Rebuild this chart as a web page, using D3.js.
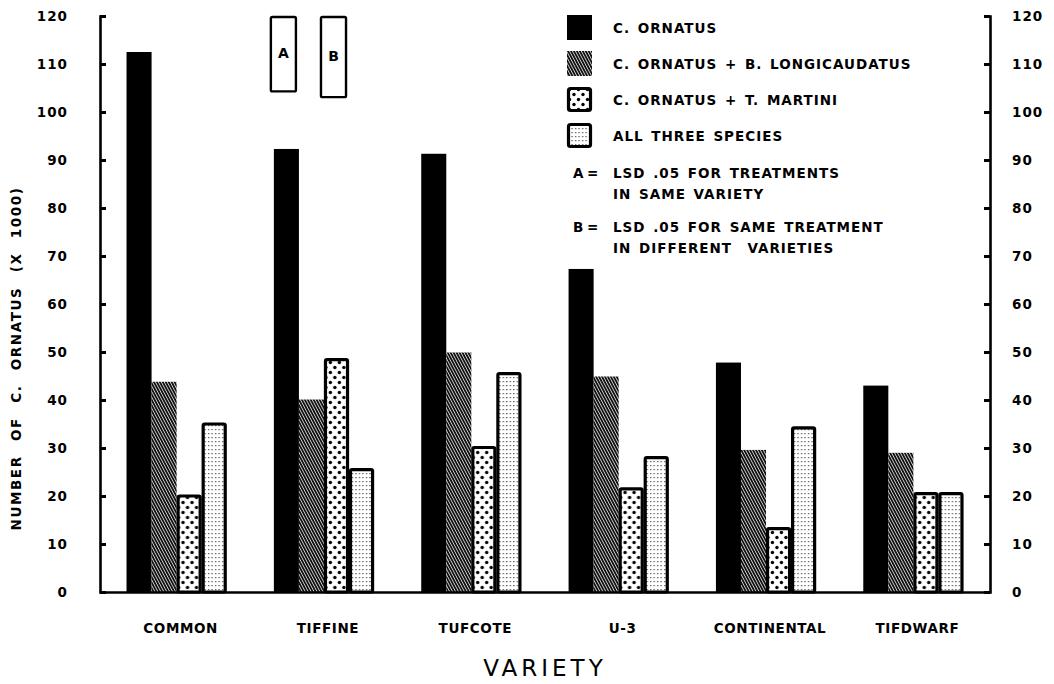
<!DOCTYPE html>
<html>
<head>
<meta charset="utf-8">
<script src="https://cdn.jsdelivr.net/npm/d3@7"></script>
<style>
  body { margin: 0; background: #fff; }
  text { font-family: "DejaVu Sans", sans-serif; fill: #000; }
</style>
</head>
<body>
<div id="chart"></div>
<script>
const varieties = ["COMMON", "TIFFINE", "TUFCOTE", "U-3", "CONTINENTAL", "TIFDWARF"];
const treatments = ["C. ORNATUS", "C. ORNATUS + B. LONGICAUDATUS", "C. ORNATUS + T. MARTINI", "ALL THREE SPECIES"];
const cOrnatus = [112.5, 92.3, 91.3, 67.3, 47.8, 43.0];
const withLongicaudatus = [43.8, 40.1, 49.9, 44.9, 29.6, 29.0];
const withMartini = [20.0, 48.4, 30.1, 21.5, 13.2, 20.5];
const allThree = [35.0, 25.5, 45.5, 28.0, 34.2, 20.5];
const yTicks = [0, 10, 20, 30, 40, 50, 60, 70, 80, 90, 100, 110, 120];
const lsdLabels = ["A", "B"];
const lsdValues = [15.5, 16.7];
const lsdTreatment = [0, 2];
const noteLines = [
  ["A", "LSD .05 FOR TREATMENTS"],
  ["", "IN SAME VARIETY"],
  ["B", "LSD .05 FOR SAME TREATMENT"],
  ["", "IN DIFFERENT  VARIETIES"]
];

const series = [cOrnatus, withLongicaudatus, withMartini, allThree];
const chartWidth = 1054, chartHeight = 684;
const plotLeft = 100, plotRight = 990, plotBottom = 592, plotTop = 16;

const svg = d3.select("#chart").append("svg")
  .attr("width", chartWidth)
  .attr("height", chartHeight);

// patterns
const defs = svg.append("defs");
const hatch = defs.append("pattern")
  .attr("id", "hatch")
  .attr("patternUnits", "userSpaceOnUse")
  .attr("width", 2.6).attr("height", 6)
  .attr("patternTransform", "rotate(-28)");
hatch.append("rect").attr("width", 2.6).attr("height", 6).attr("fill", "#fff");
hatch.append("rect").attr("width", 1.9).attr("height", 6).attr("fill", "#111");

const dots = defs.append("pattern")
  .attr("id", "dots")
  .attr("patternUnits", "userSpaceOnUse")
  .attr("width", 9).attr("height", 10);
dots.append("rect").attr("width", 9).attr("height", 10).attr("fill", "#fff");
dots.append("circle").attr("cx", 2.5).attr("cy", 2.5).attr("r", 1.7).attr("fill", "#000");
dots.append("circle").attr("cx", 7).attr("cy", 7.5).attr("r", 1.7).attr("fill", "#000");

const fine = defs.append("pattern")
  .attr("id", "fine")
  .attr("patternUnits", "userSpaceOnUse")
  .attr("width", 3.5).attr("height", 4);
fine.append("rect").attr("width", 3.5).attr("height", 4).attr("fill", "#fff");
fine.append("rect").attr("x", 1).attr("y", 1).attr("width", 1.2).attr("height", 1.2).attr("fill", "#444");

const fills = ["#000", "url(#hatch)", "url(#dots)", "url(#fine)"];
const strokes = ["none", "none", "#000", "#000"];

const x0 = d3.scaleBand().domain(varieties).range([plotLeft, plotRight])
  .paddingInner(0.32).paddingOuter(0.18);
const x1 = d3.scaleBand().domain(d3.range(treatments.length)).range([0, x0.bandwidth()]);
const y = d3.scaleLinear().domain([0, 120]).range([plotBottom, plotTop]);

// bars
const groups = svg.append("g").selectAll("g")
  .data(varieties)
  .join("g")
  .attr("transform", d => `translate(${x0(d)},0)`);

groups.selectAll("rect")
  .data((d, i) => series.map((s, k) => ({ k, value: s[i] })))
  .join("rect")
  .attr("x", d => x1(d.k) + (d.k >= 2 ? 1.5 : 0))
  .attr("width", d => x1.bandwidth() - (d.k >= 2 ? 3 : 0))
  .attr("y", d => y(d.value))
  .attr("height", d => plotBottom - y(d.value))
  .attr("rx", d => d.k >= 2 ? 1.5 : 0)
  .attr("fill", d => fills[d.k])
  .attr("stroke", d => strokes[d.k])
  .attr("stroke-width", 3.2);

// LSD boxes
lsdLabels.forEach((lab, i) => {
  const bx = x0(varieties[1]) + x1(lsdTreatment[i]);
  const g = svg.append("g");
  g.append("rect")
    .attr("x", bx - 3)
    .attr("y", y(120) + 1)
    .attr("width", x1.bandwidth())
    .attr("height", y(120 - lsdValues[i]) - y(120))
    .attr("rx", 1.5)
    .attr("fill", "#fff")
    .attr("stroke", "#000")
    .attr("stroke-width", 2.4);
  g.append("text")
    .attr("x", bx - 3 + x1.bandwidth() / 2)
    .attr("y", (y(120) + y(120 - lsdValues[i])) / 2)
    .attr("dy", "0.36em")
    .attr("text-anchor", "middle")
    .style("font-size", "14px")
    .style("font-weight", "bold")
    .text(lab);
});

// axes
const yAxisLeft = d3.axisLeft(y).tickValues(yTicks)
  .tickSizeInner(-6).tickSizeOuter(-6).tickPadding(32);
const yAxisRight = d3.axisRight(y).tickValues(yTicks)
  .tickSizeInner(-6).tickSizeOuter(-6).tickPadding(22);

function styleAxis(g) {
  g.select(".domain").attr("stroke", "#000").attr("stroke-width", 2.6);
  g.selectAll(".tick line").attr("stroke", "#000").attr("stroke-width", 3);
  g.selectAll(".tick text")
    .style("font-family", "'DejaVu Sans', sans-serif")
    .style("font-size", "13.5px")
    .style("font-weight", "bold")
    .style("letter-spacing", "1px");
}

svg.append("g")
  .attr("transform", `translate(${plotLeft},0)`)
  .call(yAxisLeft)
  .call(styleAxis);

svg.append("g")
  .attr("transform", `translate(${plotRight},0)`)
  .call(yAxisRight)
  .call(styleAxis);

const xAxis = d3.axisBottom(x0).tickSize(0).tickPadding(31);
svg.append("g")
  .attr("transform", `translate(0,${plotBottom})`)
  .call(xAxis)
  .call(g => g.select(".domain").attr("stroke", "#000").attr("stroke-width", 2.6))
  .call(g => g.selectAll(".tick text")
    .attr("x", 4)
    .style("font-family", "'DejaVu Sans', sans-serif")
    .style("font-size", "13.5px")
    .style("font-weight", "bold")
    .style("letter-spacing", "0.6px"));

// axis titles
svg.append("text")
  .attr("transform", `translate(21,${(180 + 537) / 2}) rotate(-90)`)
  .attr("text-anchor", "middle")
  .style("font-size", "13.5px")
  .style("font-weight", "bold")
  .style("letter-spacing", "1.6px")
  .style("word-spacing", "8px")
  .text("NUMBER OF C. ORNATUS (X 1000)");

svg.append("text")
  .attr("x", 545)
  .attr("y", 676)
  .attr("text-anchor", "middle")
  .style("font-size", "23px")
  .style("letter-spacing", "4px")
  .text("VARIETY");

// legend
const legend = svg.append("g").attr("transform", "translate(567,15)");
treatments.forEach((t, k) => {
  const row = legend.append("g").attr("transform", `translate(0,${k * 36})`);
  row.append("rect")
    .attr("x", k >= 2 ? 1.5 : 0)
    .attr("y", k >= 2 ? 1.5 : 0)
    .attr("width", k >= 2 ? 22 : 25)
    .attr("height", k >= 2 ? 22 : 25)
    .attr("rx", k >= 2 ? 2 : 0)
    .attr("fill", fills[k])
    .attr("stroke", strokes[k])
    .attr("stroke-width", 3.2);
  row.append("text")
    .attr("x", 46)
    .attr("y", 13)
    .attr("dy", "0.36em")
    .style("font-size", "13.5px")
    .style("font-weight", "bold")
    .style("letter-spacing", "1px")
    .style("word-spacing", "2px")
    .text(t);
});

const lineY = [173, 194, 227, 248];
noteLines.forEach((l, i) => {
  if (l[0]) {
    svg.append("text")
      .attr("x", 573).attr("y", lineY[i]).attr("dy", "0.36em")
      .style("font-size", "13.5px").style("font-weight", "bold")
      .text(l[0]);
    svg.append("text")
      .attr("x", 587).attr("y", lineY[i]).attr("dy", "0.36em")
      .style("font-size", "13.5px").style("font-weight", "bold")
      .text("=");
  }
  svg.append("text")
    .attr("x", 613).attr("y", lineY[i]).attr("dy", "0.36em")
    .style("font-size", "13.5px")
    .style("font-weight", "bold")
    .style("letter-spacing", "1px")
    .style("word-spacing", "2px")
    .style("white-space", "pre")
    .text(l[1]);
});
</script>
</body>
</html>
